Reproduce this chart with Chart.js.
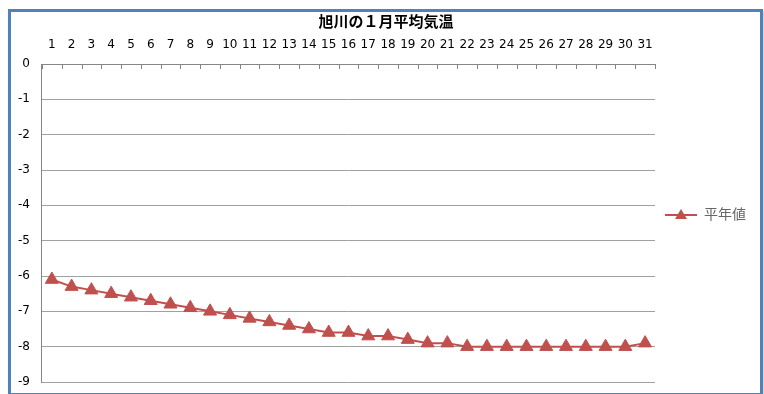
<!DOCTYPE html>
<html lang="ja">
<head>
<meta charset="utf-8">
<title>旭川の１月平均気温</title>
<script src="https://cdn.jsdelivr.net/npm/chart.js@4"></script>
<style>
    html, body { margin: 0; padding: 0; background: #fff; }
    #frame {
        position: absolute; left: 8px; top: 9px;
        width: 749px; height: 381px;
        border: 3px solid #4f81bd;
        box-shadow: 1px 2px 2px rgba(0, 0, 0, 0.25);
    }
    #chart { position: absolute; left: 0; top: 0; }
</style>
</head>
<body>
<div id="frame"></div>
<canvas id="chart" width="764" height="394"></canvas>
<script>
// 旭川 1月の日別平年値（℃）
const days = ['1', '2', '3', '4', '5', '6', '7', '8', '9', '10', '11', '12', '13', '14', '15', '16',
    '17', '18', '19', '20', '21', '22', '23', '24', '25', '26', '27', '28', '29', '30', '31'];
const normals = [-6.1, -6.3, -6.4, -6.5, -6.6, -6.7, -6.8, -6.9, -7.0, -7.1, -7.2, -7.3, -7.4, -7.5, -7.6, -7.6,
    -7.7, -7.7, -7.8, -7.9, -7.9, -8.0, -8.0, -8.0, -8.0, -8.0, -8.0, -8.0, -8.0, -8.0, -7.9];
const seriesName = '平年値';
const chartTitle = '旭川の１月平均気温';

document.addEventListener('DOMContentLoaded', function() {
    const red = '#c0504d';
    const jpFont = '"Noto Sans CJK JP", "Noto Sans", sans-serif';
    const numFont = '"DejaVu Sans", sans-serif';

    // legend marker: short line with a triangle on it
    const marker = document.createElement('canvas');
    marker.width = 32;
    marker.height = 14;
    const m = marker.getContext('2d');
    m.strokeStyle = red;
    m.lineWidth = 2;
    m.beginPath();
    m.moveTo(0, 8);
    m.lineTo(32, 8);
    m.stroke();
    m.fillStyle = red;
    m.beginPath();
    m.moveTo(16, 2);
    m.lineTo(22, 12);
    m.lineTo(10, 12);
    m.closePath();
    m.fill();

    // small tick marks hanging inside the plot from the top axis
    const innerTicks = {
        id: 'innerTicks',
        afterDatasetsDraw(chart) {
            const x = chart.scales.x;
            const ctx = chart.ctx;
            ctx.save();
            ctx.strokeStyle = '#868686';
            ctx.lineWidth = 1;
            ctx.beginPath();
            for (let i = 0; i <= days.length; i++) {
                const px = Math.round(x.getPixelForValue(i - 0.5)) + 0.5;
                ctx.moveTo(px, x.bottom);
                ctx.lineTo(px, x.bottom + 5);
            }
            ctx.stroke();
            ctx.restore();
        }
    };

    const ctx = document.getElementById('chart').getContext('2d');
    new Chart(ctx, {
        type: 'line',
        data: {
            labels: days,
            datasets: [{
                label: seriesName,
                data: normals,
                borderColor: red,
                backgroundColor: red,
                borderWidth: 2,
                pointStyle: 'triangle',
                pointRadius: 7.5,
                pointHoverRadius: 7.5,
                pointBorderWidth: 1,
                tension: 0
            }]
        },
        options: {
            responsive: false,
            animation: false,
            layout: {
                padding: { top: 12, left: 16, right: 8, bottom: 12 }
            },
            plugins: {
                title: {
                    display: true,
                    text: chartTitle,
                    color: '#000',
                    font: { family: jpFont, size: 15, weight: 'bold' },
                    padding: { top: 0, bottom: 1.6 }
                },
                legend: {
                    position: 'right',
                    title: {
                        display: true,
                        text: '',
                        font: { size: 10 },
                        padding: { top: 11, bottom: 11 }
                    },
                    labels: {
                        usePointStyle: true,
                        pointStyleWidth: 32,
                        color: '#000',
                        font: { family: jpFont, size: 14 },
                        generateLabels: function(chart) {
                            return [{
                                text: seriesName,
                                pointStyle: marker,
                                fillStyle: red,
                                strokeStyle: red,
                                lineWidth: 0,
                                datasetIndex: 0
                            }];
                        }
                    }
                },
                tooltip: { enabled: false }
            },
            scales: {
                x: {
                    position: 'top',
                    offset: true,
                    grid: {
                        drawOnChartArea: false,
                        drawTicks: true,
                        tickLength: 6,
                        tickColor: 'rgba(0,0,0,0)'
                    },
                    border: { display: true, color: '#868686' },
                    ticks: {
                        padding: 6,
                        color: '#000',
                        maxRotation: 0,
                        autoSkip: false,
                        font: { family: numFont, size: 12 }
                    }
                },
                y: {
                    min: -9,
                    max: 0,
                    grid: {
                        color: '#a0a0a0',
                        drawTicks: true,
                        tickLength: 10,
                        tickColor: 'rgba(0,0,0,0)'
                    },
                    border: { display: true, color: '#868686' },
                    ticks: {
                        stepSize: 1,
                        padding: 2,
                        color: '#000',
                        font: { family: numFont, size: 12 }
                    }
                }
            }
        },
        plugins: [innerTicks]
    });
});
</script>
</body>
</html>
